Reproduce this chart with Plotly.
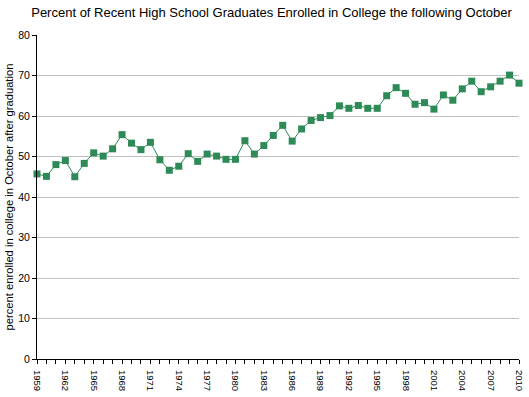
import plotly.graph_objects as go

years = list(range(1959, 2011))
rates = [45.7, 45.1, 48.0, 49.0, 45.0, 48.3, 50.9, 50.1, 51.9, 55.4,
         53.3, 51.7, 53.5, 49.2, 46.6, 47.6, 50.7, 48.8, 50.6, 50.1,
         49.3, 49.3, 53.9, 50.6, 52.7, 55.2, 57.7, 53.8, 56.8, 58.9,
         59.6, 60.1, 62.5, 61.9, 62.6, 61.9, 61.9, 65.0, 67.0, 65.6,
         62.9, 63.3, 61.7, 65.2, 63.9, 66.7, 68.6, 66.0, 67.2, 68.6,
         70.1, 68.1]
tick_years = list(range(1959, 2011, 3))
tick_labels = [str(y) for y in tick_years]

title = "Percent of Recent High School Graduates Enrolled in College the following October"
ytitle = "percent enrolled in college in October after graduation"

green = "#2E8B57"
font = "Liberation Sans, Arial, sans-serif"

fig = go.Figure(go.Scatter(
    x=years, y=rates, mode="lines+markers",
    line=dict(color=green, width=1),
    marker=dict(symbol="square", size=7, color=green),
    cliponaxis=False,
))

fig.update_layout(
    width=529, height=397,
    paper_bgcolor="white", plot_bgcolor="white",
    margin=dict(l=37, r=10, t=35, b=38),
    showlegend=False,
    font=dict(family=font, size=10, color="black"),
    title=dict(text=title, x=271.5 / 529, xref="container", xanchor="center",
               y=1 - 12 / 397, yref="container", yanchor="middle",
               font=dict(family=font, size=13, color="black")),
)

fig.update_xaxes(
    range=[1959, 2010], tickmode="array", tickvals=tick_years, ticktext=tick_labels,
    tickangle=90, ticks="outside", ticklen=4, tickcolor="black",
    showgrid=False, zeroline=False, automargin=False,
    showline=True, linecolor="black", linewidth=1,
    tickfont=dict(size=9.5), ticklabelstandoff=4,
    minor=dict(dtick=1, tick0=1959, ticks="outside", ticklen=4, tickcolor="black", showgrid=False),
)
fig.update_yaxes(
    range=[0, 80], dtick=10, ticks="outside", ticklen=4, tickcolor="black",
    showgrid=True, gridcolor="#C0C0C0", gridwidth=1, zeroline=False,
    showline=True, linecolor="black", linewidth=1, automargin=False,
    tickfont=dict(size=10.5),
    title=dict(text=ytitle, font=dict(size=11.2), standoff=2),
)

fig.write_html("out.html", config={"displayModeBar": False},
               post_script="document.body.style.margin='0px';document.body.style.overflow='hidden';")
